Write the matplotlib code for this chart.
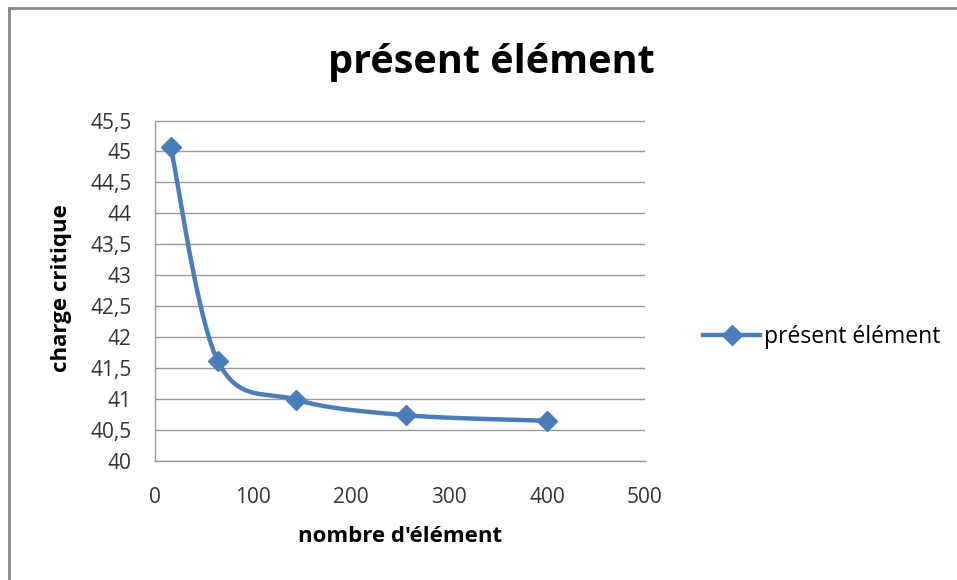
import numpy as np
import matplotlib
matplotlib.use("Agg")
import matplotlib.pyplot as plt
from matplotlib.lines import Line2D

# Critical load vs. number of elements
n_elements = [16, 64, 144, 256, 400]
critical_load = [45.08, 41.62, 40.99, 40.74, 40.65]
series_name = "présent élément"
title = "présent élément"
x_label = "nombre d'élément"
y_label = "charge critique"
x_ticks = [0, 100, 200, 300, 400, 500]
y_ticks = [40, 40.5, 41, 41.5, 42, 42.5, 43, 43.5, 44, 44.5, 45, 45.5]

BLUE = "#4a7ebb"
FONT = ["Open Sans", "DejaVu Sans"]


def smooth_curve(x, y, steps=60):
    """Bezier smoothing through the points (spreadsheet-style smoothed line)."""
    x = np.asarray(x, float)
    y = np.asarray(y, float)
    n = len(x)
    px, py = [], []
    for i in range(n - 1):
        x0, y0 = (x[i - 1], y[i - 1]) if i > 0 else (x[i], y[i])
        x3, y3 = (x[i + 2], y[i + 2]) if i + 2 < n else (x[i + 1], y[i + 1])
        c1x = x[i] + (x[i + 1] - x0) / 6
        c1y = y[i] + (y[i + 1] - y0) / 6
        c2x = x[i + 1] - (x3 - x[i]) / 6
        c2y = y[i + 1] - (y3 - y[i]) / 6
        t = np.linspace(0, 1, steps)
        b0 = (1 - t) ** 3
        b1 = 3 * (1 - t) ** 2 * t
        b2 = 3 * (1 - t) * t ** 2
        b3 = t ** 3
        px.append(b0 * x[i] + b1 * c1x + b2 * c2x + b3 * x[i + 1])
        py.append(b0 * y[i] + b1 * c1y + b2 * c2y + b3 * y[i + 1])
    return np.concatenate(px), np.concatenate(py)


fig = plt.figure(figsize=(9.57, 5.8), dpi=100)
W, H = 957, 580
ax = fig.add_axes([155 / W, (H - 461) / H, (645 - 155) / W, (461 - 120.5) / H])

sx, sy = smooth_curve(n_elements, critical_load)
ax.plot(sx, sy, color=BLUE, lw=3.2, solid_capstyle="round", zorder=3)
ax.plot(n_elements, critical_load, ls="none", marker="D", ms=10,
        color=BLUE, zorder=4)

ax.set_xlim(0, 500)
ax.set_ylim(40, 45.5)
ax.set_xticks(x_ticks)
ax.set_yticks(y_ticks)
ax.set_xticklabels([str(v) for v in x_ticks], fontsize=15, family=FONT,
                   color="#333333")
ax.set_yticklabels([f"{v:g}".replace(".", ",") for v in y_ticks],
                   fontsize=15, family=FONT, color="#333333")
ax.tick_params(axis="y", length=0, pad=17)
ax.tick_params(axis="x", length=0, pad=19)
ax.yaxis.grid(True, color="#999999", lw=1)
ax.set_axisbelow(True)
for side in ("top", "right"):
    ax.spines[side].set_visible(False)
for side in ("left", "bottom"):
    ax.spines[side].set_color("#999999")
    ax.spines[side].set_linewidth(1)

fig.text(400 / W, 1 - 537 / H, x_label, ha="center", va="center",
         fontsize=16, fontweight="bold", family=FONT)
fig.text(62 / W, 1 - 288 / H, y_label, ha="center", va="center",
         rotation=90, fontsize=16, fontweight="bold", family=FONT)
fig.text(491 / W, 1 - 62 / H, title, ha="center", va="center",
         fontsize=28.5, fontweight="bold", family=FONT)

handle = Line2D([], [], color=BLUE, lw=3.2, marker="D", ms=10)
fig.legend([handle], [series_name], loc="center left",
           bbox_to_anchor=(703 / W, 1 - 337 / H), frameon=False,
           prop={"family": FONT, "size": 16.5}, handlelength=2.5,
           handletextpad=0.15, borderaxespad=0, borderpad=0)

# Chart-area border (top and left edges)
fig.add_artist(Line2D([9 / W, 1], [1 - 8 / H, 1 - 8 / H], color="#888888",
                      lw=2, transform=fig.transFigure))
fig.add_artist(Line2D([9 / W, 9 / W], [0, 1 - 8 / H], color="#888888",
                      lw=2, transform=fig.transFigure))

fig.savefig("out.png", dpi=100, facecolor="white")
